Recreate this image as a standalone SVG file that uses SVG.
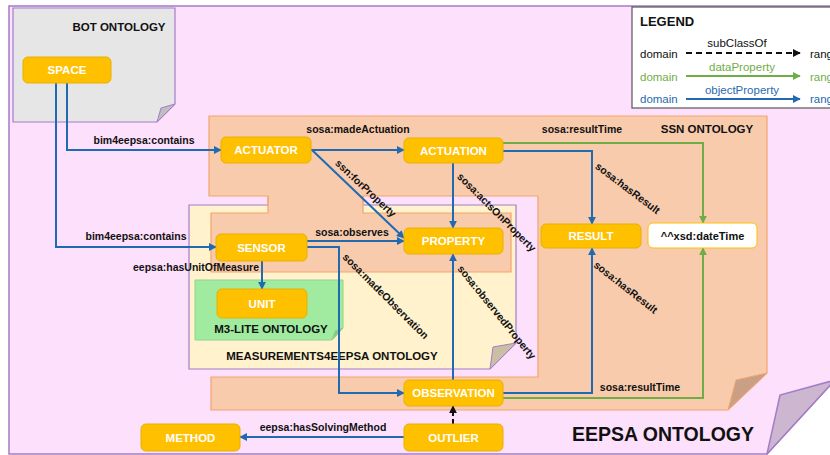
<svg xmlns="http://www.w3.org/2000/svg" width="830" height="455" viewBox="0 0 830 455">
<style>
.node rect{fill:#FFC000;stroke:#E8B000;stroke-width:1}
.node text{fill:#fff;font-family:"Liberation Sans",Arial,sans-serif;font-weight:bold;font-size:11.5px;text-anchor:middle;dominant-baseline:central}
.lbl{fill:#111;font-family:"Liberation Sans",Arial,sans-serif;font-weight:bold;font-size:10.5px;text-anchor:middle;dominant-baseline:central}
.title{fill:#111;font-family:"Liberation Sans",Arial,sans-serif;font-weight:bold;font-size:11.5px;text-anchor:middle;dominant-baseline:central}
.leg{font-family:"Liberation Sans",Arial,sans-serif;font-size:11.5px;dominant-baseline:central}
.obj{fill:none;stroke:#1F6AB0;stroke-width:2;marker-end:url(#ab)}
.dat{fill:none;stroke:#70AD47;stroke-width:2;marker-end:url(#ag)}
.sub{fill:none;stroke:#111;stroke-width:2;stroke-dasharray:6,4;marker-end:url(#ak)}
</style>
<defs>
<marker id="ab" viewBox="0 0 10 10" refX="9" refY="5" markerWidth="4" markerHeight="4" orient="auto"><path d="M0,0 L10,5 L0,10 z" fill="#1F6AB0"/></marker>
<marker id="ag" viewBox="0 0 10 10" refX="9" refY="5" markerWidth="4" markerHeight="4" orient="auto"><path d="M0,0 L10,5 L0,10 z" fill="#70AD47"/></marker>
<marker id="ak" viewBox="0 0 10 10" refX="9" refY="5" markerWidth="4" markerHeight="4" orient="auto"><path d="M0,0 L10,5 L0,10 z" fill="#111"/></marker>
</defs>

<!-- EEPSA ontology background -->
<g id="eepsa-ontology">
<polygon points="9,6 835,6 835,380 767,454 9,454" fill="#FCE0FC" stroke="#A47CC8" stroke-width="1.5"/>
<polygon points="767,454 780,395 835,380" fill="#CDB6CF" stroke="#A47CC8" stroke-width="1.5"/>
<text x="663" y="434" class="title" style="font-size:19.5px">EEPSA ONTOLOGY</text>
</g>

<!-- BOT ontology -->
<g id="bot-ontology">
<polygon points="13,8 175,8 175,104 157,122 13,122" fill="#E6E6E6" stroke="#A47CC8" stroke-width="1.2"/>
<polygon points="157,122 161,108 175,104" fill="#BFBFBF" stroke="#A47CC8" stroke-width="1"/>
<text x="119" y="27" class="title">BOT ONTOLOGY</text>
</g>

<!-- SSN ontology -->
<g id="ssn-ontology">
<polygon points="209,116 767,116 767,373 728,410 211,410 211,377 538,377 538,196 363,196 363,210 268,210 268,196 209,196" fill="#F8CBAD" stroke="#F4A46E" stroke-width="1.2"/>
<polygon points="728,410 736,380 767,373" fill="#C9A085" stroke="#F4A46E" stroke-width="1"/>
<text x="707" y="129" class="title">SSN ONTOLOGY</text>
</g>

<!-- MEASUREMENTS4EEPSA ontology -->
<g id="measurements-ontology">
<polygon points="189,205 516,205 516,343 490,369 189,369" fill="#FFF2CC" stroke="#A47CC8" stroke-width="1.2"/>
<polygon points="490,369 493,347 516,343" fill="#C9BFA4" stroke="#A47CC8" stroke-width="1"/>
<text x="332" y="356" class="title">MEASUREMENTS4EEPSA  ONTOLOGY</text>
</g>

<!-- SSN part inside measurements -->
<g id="ssn-inner">
<polygon points="211,213 268,213 268,203 363,203 363,213 511,213 511,272 211,272" fill="#F8CBAD"/>
<polyline points="268,196 268,213 211,213 211,272 511,272 511,213 363,213 363,196" fill="none" stroke="#F4A46E" stroke-width="1.2"/>
</g>

<!-- M3-LITE ontology -->
<g id="m3lite-ontology">
<polygon points="195,280 343,280 343,328 332,340 195,340" fill="#A0EBA0" stroke="#8ED48E" stroke-width="1"/>
<polygon points="332,340 335,331 343,328" fill="#86C886" stroke="#8ED48E" stroke-width="1"/>
<text x="271" y="329" class="title">M3-LITE ONTOLOGY</text>
</g>

<!-- Legend -->
<g id="legend">
<rect x="632" y="7" width="220" height="101" fill="#fff" stroke="#555" stroke-width="1.2"/>
<text x="640" y="21" class="title" style="text-anchor:start;font-size:13px">LEGEND</text>
<text x="640" y="54" class="leg" fill="#111">domain</text>
<text x="737" y="43" class="leg" fill="#111" text-anchor="middle">subClassOf</text>
<line x1="686" y1="53" x2="800" y2="53" class="sub"/>
<text x="810" y="54" class="leg" fill="#111">range</text>
<text x="640" y="77" class="leg" fill="#70AD47">domain</text>
<text x="742" y="67" class="leg" fill="#70AD47" text-anchor="middle">dataProperty</text>
<line x1="686" y1="76" x2="800" y2="76" class="dat"/>
<text x="810" y="77" class="leg" fill="#70AD47">range</text>
<text x="640" y="99" class="leg" fill="#1F6AB0">domain</text>
<text x="742" y="90" class="leg" fill="#1F6AB0" text-anchor="middle">objectProperty</text>
<line x1="686" y1="99" x2="800" y2="99" class="obj"/>
<text x="810" y="99" class="leg" fill="#1F6AB0">range</text>
</g>

<!-- Connectors -->
<g id="connectors">
<path d="M67,83 V150 H221" class="obj"/>
<path d="M56,83 V247 H216" class="obj"/>
<path d="M262,261 V289" class="obj"/>
<path d="M307,241 H404" class="obj"/>
<path d="M307,247 H339 V393 H404" class="obj"/>
<path d="M311,150 H404" class="obj"/>
<path d="M312,150 L404,238" class="obj"/>
<path d="M453,163 V228" class="obj"/>
<path d="M503,151 H592 V224" class="obj"/>
<path d="M503,143 H703 V223" class="dat"/>
<path d="M453,380 V254" class="obj"/>
<path d="M503,393 H592 V248" class="obj"/>
<path d="M503,398 H703 V248" class="dat"/>
<path d="M453,424 V406" class="sub" style="stroke-dasharray:5,3"/>
<path d="M404,437 H240" class="obj"/>

<text x="144" y="140" class="lbl">bim4eepsa:contains</text>
<text x="136" y="236" class="lbl">bim4eepsa:contains</text>
<text x="196" y="267" class="lbl">eepsa:hasUnitOfMeasure</text>
<text x="358" y="129" class="lbl">sosa:madeActuation</text>
<text x="352" y="232" class="lbl">sosa:observes</text>
<text x="582" y="129" class="lbl">sosa:resultTime</text>
<text x="640" y="387" class="lbl">sosa:resultTime</text>
<text x="323" y="427" class="lbl">eepsa:hasSolvingMethod</text>
<text class="lbl" transform="translate(366,188) rotate(43)">ssn:forProperty</text>
<text class="lbl" transform="translate(497,212) rotate(45)">sosa:actsOnProperty</text>
<text class="lbl" transform="translate(628,188) rotate(37)">sosa:hasResult</text>
<text class="lbl" transform="translate(626,287) rotate(38)">sosa:hasResult</text>
<text class="lbl" transform="translate(386,296) rotate(45)">sosa:madeObservation</text>
<text class="lbl" transform="translate(497,312) rotate(51)">sosa:observedProperty</text>
</g>

<!-- Nodes -->
<g id="space" class="node"><rect x="23" y="57" width="88" height="26" rx="5"/><text x="67" y="70">SPACE</text></g>
<g id="actuator" class="node"><rect x="221" y="137" width="90" height="26" rx="5"/><text x="266" y="150">ACTUATOR</text></g>
<g id="actuation" class="node"><rect x="404" y="138" width="99" height="25" rx="5"/><text x="453.5" y="150.5">ACTUATION</text></g>
<g id="sensor" class="node"><rect x="216" y="234" width="91" height="27" rx="5"/><text x="261.5" y="247.5">SENSOR</text></g>
<g id="property" class="node"><rect x="404" y="228" width="99" height="26" rx="5"/><text x="453.5" y="241">PROPERTY</text></g>
<g id="result" class="node"><rect x="541" y="224" width="100" height="24" rx="5"/><text x="591" y="236">RESULT</text></g>
<g id="datetime"><rect x="648" y="223" width="109" height="25" rx="5" fill="#fff" stroke="#FFC000" stroke-width="1"/><text x="702.5" y="235.5" class="lbl" style="font-size:11px">^^xsd:dateTime</text></g>
<g id="unit" class="node"><rect x="217" y="289" width="90" height="29" rx="5"/><text x="262" y="303.5">UNIT</text></g>
<g id="observation" class="node"><rect x="404" y="380" width="99" height="26" rx="5"/><text x="453.5" y="393">OBSERVATION</text></g>
<g id="outlier" class="node"><rect x="404" y="424" width="99" height="27" rx="5"/><text x="453.5" y="437.5">OUTLIER</text></g>
<g id="method" class="node"><rect x="141" y="424" width="99" height="27" rx="5"/><text x="190.5" y="437.5">METHOD</text></g>
</svg>
